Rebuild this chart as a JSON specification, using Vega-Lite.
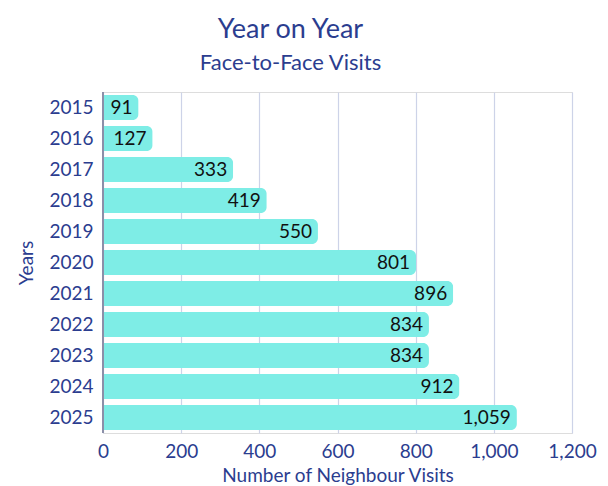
{
  "$schema": "https://vega.github.io/schema/vega-lite/v6.json",
  "width": 469,
  "height": 341,
  "autosize": {"type": "none"},
  "padding": {"left": 103, "top": 92, "right": 36, "bottom": 53},
  "background": "white",
  "title": {
    "text": "Year on Year",
    "subtitle": "Face-to-Face Visits",
    "anchor": "middle",
    "frame": "group",
    "dx": -47,
    "font": "Lato",
    "fontSize": 27,
    "fontWeight": "normal",
    "color": "#2b3d8f",
    "subtitleFont": "Lato",
    "subtitleFontSize": 22,
    "subtitleColor": "#2b3d8f",
    "subtitlePadding": 9,
    "offset": 17
  },
  "data": {
    "values": [
      {"year": "2015", "visits": 91},
      {"year": "2016", "visits": 127},
      {"year": "2017", "visits": 333},
      {"year": "2018", "visits": 419},
      {"year": "2019", "visits": 550},
      {"year": "2020", "visits": 801},
      {"year": "2021", "visits": 896},
      {"year": "2022", "visits": 834},
      {"year": "2023", "visits": 834},
      {"year": "2024", "visits": 912},
      {"year": "2025", "visits": 1059}
    ]
  },
  "encoding": {
    "y": {
      "field": "year",
      "type": "ordinal",
      "title": "Years",
      "scale": {"paddingInner": 0.2, "paddingOuter": 0.1},
      "axis": {
        "labelFont": "Lato",
        "labelFontSize": 19,
        "labelColor": "#2b3d8f",
        "labelPadding": 10,
        "ticks": false,
        "domain": false,
        "titleFont": "Lato",
        "titleFontSize": 19,
        "titleFontWeight": "normal",
        "titleColor": "#2b3d8f",
        "titlePadding": 12
      }
    },
    "x": {
      "field": "visits",
      "type": "quantitative",
      "title": "Number of Neighbour Visits",
      "scale": {"domain": [0, 1200]},
      "axis": {
        "values": [0, 200, 400, 600, 800, 1000, 1200],
        "format": ",d",
        "labelFlush": false,
        "labelOverlap": false,
        "labelFont": "Lato",
        "labelFontSize": 19,
        "labelColor": "#2b3d8f",
        "labelPadding": 9,
        "ticks": false,
        "domain": false,
        "gridColor": "#cdd3e8",
        "gridWidth": 1.2,
        "titleFont": "Lato",
        "titleFontSize": 19,
        "titleFontWeight": "normal",
        "titleColor": "#2b3d8f",
        "titlePadding": 5
      }
    }
  },
  "layer": [
    {
      "mark": {"type": "bar", "color": "#7eede6", "cornerRadiusEnd": 6},
      "encoding": {}
    },
    {
      "mark": {"type": "text", "align": "right", "dx": -6, "font": "Lato", "fontSize": 19, "color": "#111111"},
      "encoding": {"text": {"field": "visits", "type": "quantitative", "format": ",d"}}
    },
    {
      "mark": {"type": "rule", "color": "#8b8fa8", "strokeWidth": 1},
      "encoding": {"x": {"datum": 0}, "y": null}
    }
  ]
}
